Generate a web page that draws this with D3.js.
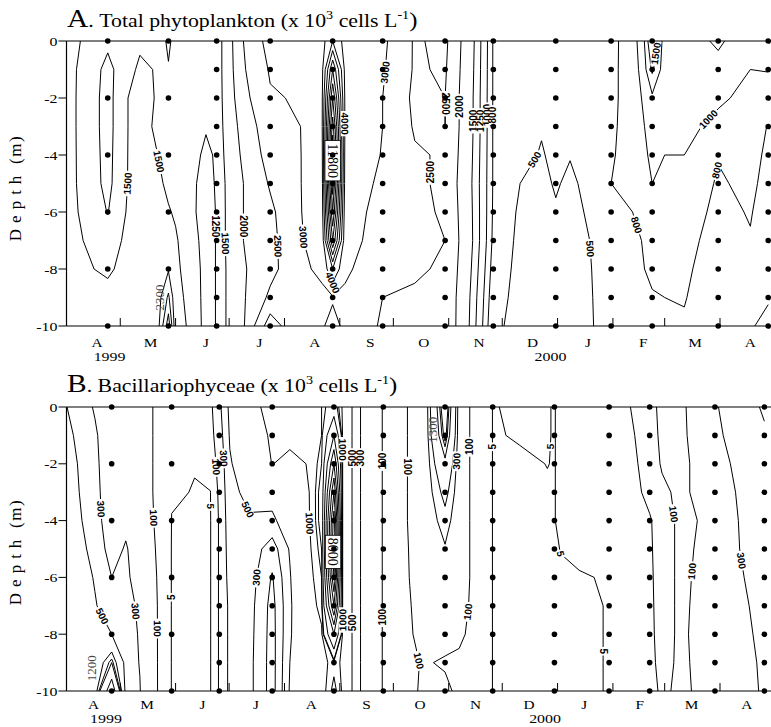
<!DOCTYPE html>
<html><head><meta charset="utf-8">
<script src="https://cdn.jsdelivr.net/npm/d3@7"></script>
<style>body{margin:0;background:#fff}svg{display:block}</style>
</head><body>
<svg id="chart" width="771" height="727"></svg>
<script>
// ---------------- DATA ----------------
const depths = [0,1,2,3,4,5,6,7,8,9,10];
const yTickDepths = [0,2,4,6,8,10];
const yTickLabels = ["0","-2","-4","-6","-8","-10"];
const monthLabels = ["A","M","J","J","A","S","O","N","D","J","F","M","A"];
const yearLabels = ["1999","2000"];
// sampling days (days since 1999-04-01)
const sampleDays = [23,57,84,114,149,177,212,239,274,305,328,365,393];
const coarseSamples = 2; // first two cruises sampled every 2 m

// Panel A: total phytoplankton field (x10^3 cells/L), columns = grid days, rows = depth 0..10 m
const gridDaysA = [0,23,41,51,57,61,69,78,84,99,114,131,143,149,156,177,195,212,239,254,266,274,282,293,305,317,322,328,335,346,365,383,393];
const valuesA = [
 [1600,1600,1600,1600,1600,1600,1600,1600,1600,1600,1600],
 [1300,1180,1160,1160,1170,1180,1240,1350,1450,1600,1700],
 [1450,1550,1700,1700,1700,1700,1700,1700,1700,1700,1750],
 [1400,1480,1450,1400,1500,1550,1600,1650,1700,1750,1800],
 [1200,1270,1300,1320,1380,1450,1520,1600,1950,2600,3300],
 [1350,1380,1350,1340,1360,1400,1470,1530,1550,1600,1650],
 [1400,1450,1400,1380,1350,1300,1300,1350,1400,1420,1450],
 [1300,1290,1280,1270,1200,1180,1170,1170,1170,1170,1170],
 [1260,1270,1280,1290,1280,1270,1260,1260,1260,1260,1260],
 [2500,2450,2350,2200,2100,2000,2000,2000,1950,1950,1950],
 [3200,3050,2950,2800,2700,2550,2400,2350,2350,2600,3300],
 [3300,3200,3050,3000,2980,2980,2970,2950,2900,2700,2500],
 [3600,3700,3800,3800,3700,3600,3500,3300,3100,2900,2900],
 [5000,8000,10000,11500,12500,12300,11000,9000,5000,2900,3300],
 [3600,3700,3800,3800,3700,3600,3400,3300,3100,2900,2800],
 [3100,3050,3000,3000,2950,2800,2700,2650,2600,2500,2450],
 [2450,2450,2400,2450,2550,2600,2600,2600,2550,2450,2400],
 [2600,2550,2500,2500,2450,2400,2450,2500,2450,2400,2400],
 [780,780,780,780,780,780,770,750,700,650,600],
 [700,690,670,640,580,500,450,420,400,380,350],
 [650,640,600,520,480,450,420,400,380,370,360],
 [640,620,600,580,560,520,480,440,420,400,380],
 [650,640,620,580,510,460,430,410,400,400,400],
 [660,650,640,620,600,560,530,500,480,470,460],
 [720,730,740,760,780,800,760,720,700,680,680],
 [950,940,920,900,880,850,800,760,740,720,700],
 [1050,1030,1000,960,930,900,850,800,780,760,740],
 [1800,1550,1200,1100,1050,1000,880,850,850,780,760],
 [1100,1100,1060,1030,1000,960,900,860,830,800,790],
 [1100,1100,1080,1050,1000,930,880,840,820,805,790],
 [1300,1150,1030,950,810,780,760,750,740,740,740],
 [1050,1000,950,900,870,840,810,790,780,780,790],
 [1150,1010,900,790,760,740,730,740,760,790,830]
];
const levelsA = [500,800,1000,1250,1500,2000,2500,3000,4000,5000,6000,7000,8000,9000,10000,11000,11800];
const labelsA = [
 {v:1500,d:34,z:5},{v:1500,d:54,z:4.2},{v:1250,d:85,z:6.5},{v:1500,d:91.5,z:7.1},
 {v:2000,d:99,z:6.5},{v:2500,d:118,z:7.2},{v:3000,d:129,z:6.9},{v:4000,d:141,z:9.2},
 {v:4000,d:157,z:2.9},{v:3000,d:178,z:1.1},{v:2500,d:188,z:4.6},{v:2500,d:213,z:2.2},
 {v:2000,d:220,z:2.3},{v:1500,d:226,z:2.8},{v:1250,d:230,z:2.8},{v:1000,d:234,z:2.6},
 {v:800,d:240,z:2.6},{v:500,d:258,z:4},{v:500,d:291,z:7.3},{v:800,d:317,z:6.5},
 {v:1000,d:357,z:2.6},{v:800,d:362,z:4.5},{v:1500,d:337,z:0.5},
 {t:"2300",d:52,z:9,plain:true},{t:"11800",d:149,z:4.2,box:true}
];

// Panel B: Bacillariophyceae field (x10^3 cells/L)
const gridDaysB = [-3,13.5,23,31,39,50,57,70,79,84,90,101,114,124,135,142,149,154,161,177,184,192,201,212,220,232,239,254,270,274,277.5,288,305,316,328,335,345,365,379,393];
const valuesB = [
 [510,560,600,620,650,700,750,800,850,800,800],
 [280,330,350,360,380,420,480,520,600,700,800],
 [150,150,150,170,180,220,300,360,500,1300,2500],
 [170,170,170,180,250,320,330,340,350,360,370],
 [140,140,140,140,150,180,230,280,290,295,305],
 [80,80,80,80,80,80,80,80,80,80,80],
 [30,25,15,8,4,3,3,3,3,3,3],
 [10,8,6,4,2,1,1,1,1,1,1],
 [60,40,15,4.5,2,2,2,2,2,2,2],
 [250,200,150,120,110,110,110,110,110,110,110],
 [550,520,480,450,420,400,380,350,350,350,350],
 [900,800,650,550,480,420,400,380,370,360,360],
 [1100,1050,1010,600,450,200,80,30,20,15,15],
 [1200,1100,900,800,650,520,480,460,470,500,520],
 [1150,1100,1020,1000,990,950,900,850,800,750,700],
 [1200,1200,1300,1400,1400,1300,1200,1100,950,900,850],
 [1500,3000,5000,7000,8500,9000,8000,6000,3000,1100,1300],
 [950,950,950,950,950,950,950,950,950,950,950],
 [350,350,350,350,350,350,350,350,350,350,350],
 [90,90,90,90,90,90,90,90,90,90,90],
 [50,50,50,50,50,50,50,50,50,50,50],
 [110,110,110,110,110,105,102,95,90,85,80],
 [150,150,150,150,150,150,150,150,140,110,120],
 [1600,1400,900,600,400,280,250,200,150,85,130],
 [150,150,150,150,150,150,150,140,120,80,70],
 [50,50,50,50,50,50,50,50,50,50,50],
 [4,4,4,4,4,4,4,4,4,4,4],
 [8,6,3,2,2,2,2,2,2,2,2],
 [5.5,5.5,5.2,4,3,2,2,2,2,2,2],
 [4.5,4.5,4.5,4.5,4.5,4,3,3,3,3,3],
 [8,8,8,8,8,5.2,4,3,3,3,3],
 [30,30,30,30,25,8,4,3,3,3,3],
 [20,20,20,20,15,8,6,5.5,5.5,5.5,5.5],
 [95,75,60,52,40,40,30,30,30,30,30],
 [150,160,150,130,90,85,80,75,70,65,60],
 [60,70,90,120,150,150,150,150,150,140,120],
 [60,60,60,80,80,80,80,80,80,80,80],
 [280,250,200,150,120,130,140,150,160,150,140],
 [420,400,360,330,310,300,280,250,230,210,200],
 [520,480,450,420,400,400,390,380,360,340,330]
];
const levelsB = [5,100,300,500,1000,1200,1300,2000,3000,4000,5000,6000,7000,8000];
const labelsB = [
 {v:300,d:13.5,z:3.6},{v:500,d:16.4,z:7.4},{v:300,d:35,z:7.2},{v:100,d:47.6,z:3.9},
 {v:100,d:47.6,z:7.8},{v:5,d:54.4,z:6.7},{v:5,d:77,z:3.5},{v:100,d:83.3,z:2.1},
 {v:300,d:88.9,z:1.8},{v:500,d:100.3,z:3.6},{v:300,d:104,z:6},{v:1000,d:134.4,z:4.1},
 {v:1000,d:154.2,z:1.5},{v:500,d:159.8,z:1.8},{v:300,d:163.8,z:1.8},{v:100,d:174.5,z:1.9},
 {v:1000,d:151.3,z:7.5},{v:500,d:161,z:7.6},{v:100,d:174.5,z:7.4},{v:100,d:193.3,z:2.1},
 {v:300,d:214.3,z:1.9},{v:100,d:227.9,z:1.4},{v:5,d:240.3,z:1.4},{v:5,d:273,z:1.4},
 {v:5,d:276,z:5.2},{v:100,d:337.8,z:3.8},{v:5,d:302,z:8.6},{v:300,d:381,z:5.4},
 {v:100,d:355,z:5.8},{v:100,d:199.5,z:8.9},{v:100,d:223.4,z:7.2},
 {t:"1200",d:11.8,z:9.2,plain:true},{t:"1300",d:204.6,z:0.8,plain:true},
 {t:"8000",d:148.5,z:5.1,box:true}
];

// ---------------- DRAWING ----------------
const W = 771, H = 727, LEFT = 66.5;
const svg = d3.select("#chart");
const base = new Date(1999, 3, 1);
const dayDate = d => new Date(base.getTime() + d * 864e5);
const SERIF = "'Liberation Serif','Times New Roman',Tinos,'Nimbus Roman',Times,serif";
const SX = 1.18; // horizontal stretch of the original lettering

const xAxisScale = d3.scaleTime().domain([base, dayDate(396)]).range([66.7, 66.7 + 396 * 1.785]);
const xFieldA = xAxisScale;
const xFieldB = d3.scaleTime().domain([base, dayDate(396)]).range([71.1, 71.1 + 396 * 1.764]);

function stretchedText(g, x, y, txt, size, anchor) {
  return g.append("text").attr("transform", `translate(${x},${y}) scale(${SX},1)`)
    .attr("font-family", SERIF).attr("font-size", size).attr("text-anchor", anchor || "start")
    .attr("fill", "#000").text(txt);
}

function panel(P) {
  const y = d3.scaleLinear().domain([0, 10]).range([P.top, P.bottom]);
  const g = svg.append("g");
  const clipId = "clip" + P.letter;
  svg.append("clipPath").attr("id", clipId).append("rect")
    .attr("x", LEFT).attr("y", P.top - 1).attr("width", W - LEFT).attr("height", P.bottom - P.top + 2);
  const cg = g.append("g").attr("clip-path", `url(#${clipId})`);

  const nx = P.gridDays.length, ny = depths.length;
  const flat = [];
  for (let j = 0; j < ny; j++) for (let i = 0; i < nx; i++) flat.push(P.values[i][j]);
  const colDay = d3.scaleLinear().domain(d3.range(nx)).range(P.gridDays);
  const toPx = p => [P.xf(dayDate(colDay(p[0] - 0.5))), y(p[1] - 0.5)];
  const border = p => p[0] <= 0 || p[0] >= nx || p[1] <= 0 || p[1] >= ny;
  const contours = d3.contours().size([nx, ny]).thresholds(P.levels)(flat);
  const runsByLevel = new Map();
  const line = d3.line();
  contours.forEach(c => {
    const runs = [];
    c.coordinates.forEach(poly => poly.forEach(ring => {
      const pts = ring.slice();
      if (pts.length > 1) {
        const a = pts[0], b = pts[pts.length - 1];
        if (a[0] === b[0] && a[1] === b[1]) pts.pop();
      }
      const bi = pts.findIndex(border);
      if (bi < 0) { runs.push({ pts: pts.map(toPx), closed: true }); return; }
      const rot = pts.slice(bi).concat(pts.slice(0, bi));
      let cur = [];
      rot.forEach(p => {
        if (border(p)) { if (cur.length > 1) runs.push({ pts: cur.map(toPx), closed: false }); cur = []; }
        else cur.push(p);
      });
      if (cur.length > 1) runs.push({ pts: cur.map(toPx), closed: false });
    }));
    runsByLevel.set(c.value, runs);
    runs.forEach(r => {
      cg.append("path").attr("d", line(r.pts) + (r.closed ? "Z" : ""))
        .attr("fill", "none").attr("stroke", "#000").attr("stroke-width", 1);
    });
  });

  P.labels.forEach(L => {
    const ax = P.xf(dayDate(L.d)), ay = y(L.z);
    if (L.t) {
      const lg = cg.append("g").attr("transform", `translate(${ax},${ay}) rotate(${L.box ? 90 : -90})`);
      const fs = L.box ? 14 : 13;
      const w = L.t.length * fs * 0.52 + 4;
      if (L.box) lg.append("rect").attr("x", -w / 2).attr("y", -fs * 0.55).attr("width", w).attr("height", fs * 1.1)
        .attr("fill", "#fff").attr("stroke", "#000").attr("stroke-width", 0.8);
      lg.append("text").attr("text-anchor", "middle").attr("dy", "0.35em")
        .attr("font-family", SERIF).attr("font-size", fs).attr("fill", L.box ? "#000" : "#444").text(L.t);
      return;
    }
    const runs = runsByLevel.get(L.v) || [];
    let best = null;
    runs.forEach(r => {
      const pts = r.closed ? r.pts.concat([r.pts[0]]) : r.pts;
      for (let k = 0; k < pts.length - 1; k++) {
        const [x1, y1] = pts[k], [x2, y2] = pts[k + 1];
        const dx = x2 - x1, dy = y2 - y1, l2 = dx * dx + dy * dy;
        let t = l2 ? ((ax - x1) * dx + (ay - y1) * dy) / l2 : 0;
        t = Math.max(0, Math.min(1, t));
        const px = x1 + t * dx, py = y1 + t * dy, dist = Math.hypot(px - ax, py - ay);
        if (!best || dist < best.dist) best = { dist, px, py, ang: Math.atan2(dy, dx) * 180 / Math.PI };
      }
    });
    if (!best || best.dist > 40) return;
    let a = best.ang;
    if (a > 90) a -= 180;
    if (a < -90) a += 180;
    const txt = String(L.v);
    const w = txt.length * 5.6 + 3;
    const lg = cg.append("g").attr("transform", `translate(${best.px},${best.py}) rotate(${a})`);
    lg.append("rect").attr("x", -w / 2).attr("y", -4).attr("width", w).attr("height", 8).attr("fill", "#fff");
    lg.append("text").attr("text-anchor", "middle").attr("dy", "0.36em")
      .attr("font-family", "'Liberation Sans',Arial,sans-serif").attr("font-weight", "bold")
      .attr("font-size", 10).attr("fill", "#000").text(txt);
  });

  sampleDays.forEach((sd, i) => {
    const ds = i < coarseSamples ? depths.filter(d => d % 2 === 0) : depths;
    ds.forEach(d => {
      g.append("circle").attr("cx", P.xf(dayDate(sd))).attr("cy", y(d)).attr("r", 2.8).attr("fill", "#000");
    });
  });

  g.append("line").attr("x1", LEFT).attr("x2", W).attr("y1", P.top).attr("y2", P.top).attr("stroke", "#000").attr("stroke-width", 1.2);
  g.append("line").attr("x1", LEFT).attr("x2", W).attr("y1", P.bottom).attr("y2", P.bottom).attr("stroke", "#000").attr("stroke-width", 1.2);
  g.append("line").attr("x1", LEFT).attr("x2", LEFT).attr("y1", P.top).attr("y2", P.bottom).attr("stroke", "#000").attr("stroke-width", 1.2);

  yTickDepths.forEach((d, i) => {
    g.append("line").attr("x1", LEFT - 8).attr("x2", LEFT).attr("y1", y(d)).attr("y2", y(d)).attr("stroke", "#000");
    stretchedText(g, LEFT - 9, y(d) + 4.5, yTickLabels[i], 13.5, "end");
  });

  const months = d3.timeMonth.range(base, new Date(2000, 4, 2));
  months.forEach(m => {
    const xx = xAxisScale(m);
    if (xx > LEFT + 1 && xx < W) g.append("line").attr("x1", xx).attr("x2", xx).attr("y1", P.bottom - 8).attr("y2", P.bottom).attr("stroke", "#000");
  });
  monthLabels.forEach((lab, i) => {
    const xx = xAxisScale(d3.timeDay.offset(months[i], P.labelDay));
    stretchedText(g, xx, P.bottom + P.monthDy, lab, 13, "middle");
  });
  yearLabels.forEach((yl, i) => {
    stretchedText(g, xAxisScale(dayDate(P.yearDays[i])), P.bottom + P.yearDy, yl, 13.5, "middle");
  });

  const yt = g.append("text").attr("transform", `translate(21,${P.titleYc}) rotate(-90)`)
    .attr("font-family", SERIF).attr("font-size", 17).attr("text-anchor", "middle").attr("fill", "#000");
  yt.append("tspan").attr("letter-spacing", 6).text("Depth");
  yt.append("tspan").attr("letter-spacing", 1.5).text(" (m)");

  const tt = g.append("text").attr("transform", `translate(67,${P.titleBase}) scale(${SX},1)`)
    .attr("font-family", SERIF).attr("fill", "#000");
  tt.append("tspan").attr("font-size", 25).text(P.letter);
  tt.append("tspan").attr("font-size", 18.5).text(".\u00a0" + P.title + " (x 10");
  tt.append("tspan").attr("font-size", 12).attr("dy", -8).text("3");
  tt.append("tspan").attr("font-size", 18.5).attr("dy", 8).text(" cells L");
  tt.append("tspan").attr("font-size", 12).attr("dy", -8).text("-1");
  tt.append("tspan").attr("font-size", 21).attr("dy", 8).text(")");
}

panel({ letter: "A", title: "Total phytoplankton", top: 41, bottom: 326, xf: xFieldA,
  gridDays: gridDaysA, values: valuesA, levels: levelsA, labels: labelsA,
  labelDay: 17, monthDy: 21, yearDy: 35, yearDays: [24, 271], titleYc: 188, titleBase: 27 });
panel({ letter: "B", title: "Bacillariophyceae", top: 407, bottom: 691, xf: xFieldB,
  gridDays: gridDaysB, values: valuesB, levels: levelsB, labels: labelsB,
  labelDay: 15, monthDy: 18, yearDy: 32, yearDays: [22, 268], titleYc: 552, titleBase: 392 });
</script>
</body></html>
